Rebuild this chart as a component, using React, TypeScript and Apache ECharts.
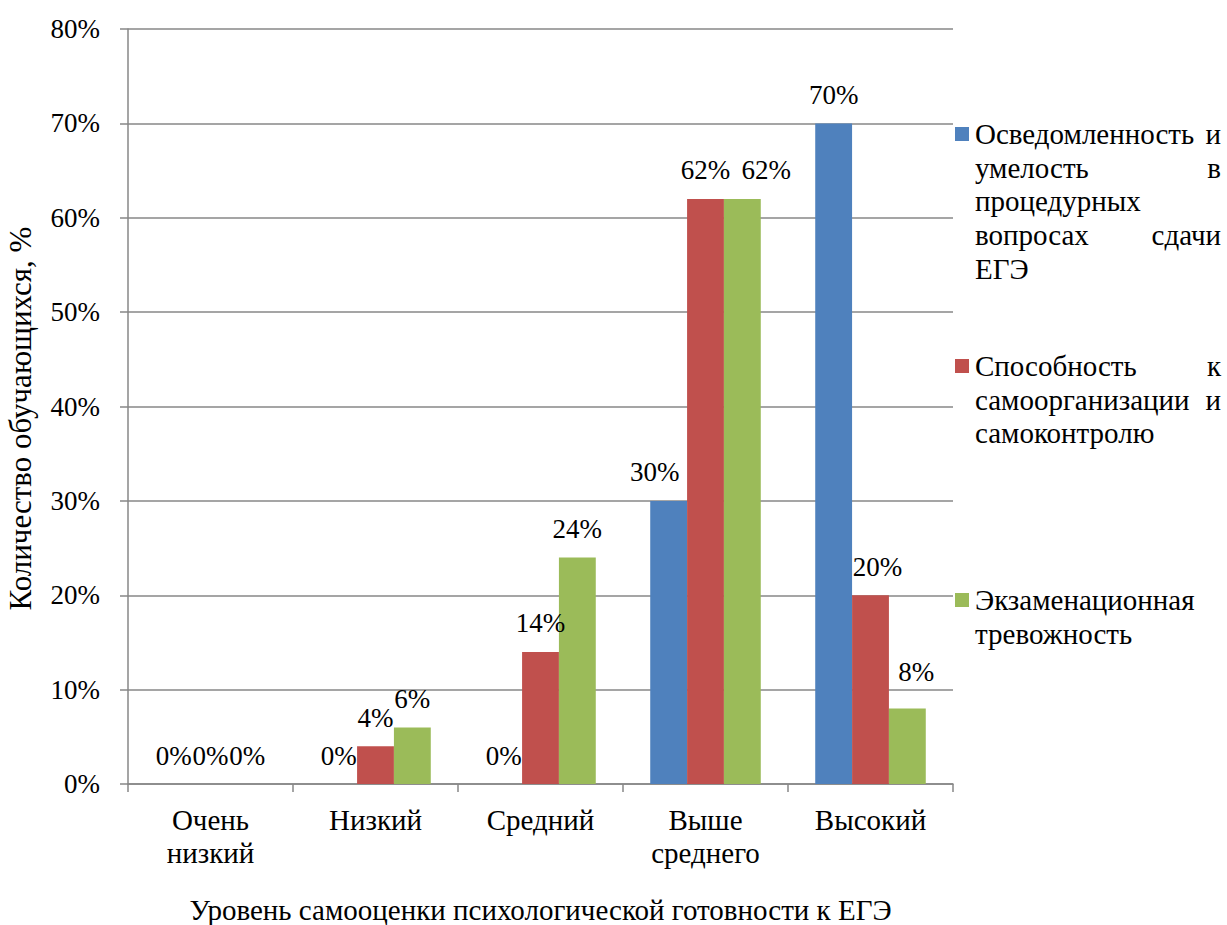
import React, { useEffect, useRef } from "react";
import * as echarts from "echarts";

const categories = ["Очень\nнизкий", "Низкий", "Средний", "Выше\nсреднего", "Высокий"];
const seriesNames = [
  "Осведомленность и умелость в процедурных вопросах сдачи ЕГЭ",
  "Способность к самоорганизации и самоконтролю",
  "Экзаменационная тревожность",
];
const awareness = [0, 0, 0, 30, 70];
const selfControl = [0, 4, 14, 62, 20];
const anxiety = [0, 6, 24, 62, 8];
const colors = ["#4F81BD", "#C0504D", "#9BBB59"];

// legend lines: [left word(s), right word (justified) or ""]
const legendLines: [string, string][][] = [
  [["Осведомленность", "и"], ["умелость", "в"], ["процедурных", ""], ["вопросах", "сдачи"], ["ЕГЭ", ""]],
  [["Способность", "к"], ["самоорганизации", "и"], ["самоконтролю", ""]],
  [["Экзаменационная", ""], ["тревожность", ""]],
];

// label nudges (like Excel's overlap avoidance), keyed "series-index"
const labelNudge: Record<string, [number, number]> = {
  "0-3": [-14, 0],
  "1-4": [7, 0],
  "2-3": [24, 0],
  "2-4": [9, -8],
};

const FONT = "Liberation Serif";

export default function App() {
  const ref = useRef<HTMLDivElement>(null);
  useEffect(() => {
    if (!ref.current) return;
    const chart = echarts.init(ref.current, undefined, { renderer: "svg" });
    const data = [awareness, selfControl, anxiety];

    const legendTops = [134, 366, 600];
    const lineH = 33.7;
    const textLeft = 975;
    const textRight = 1221;
    const graphics: any[] = [];
    legendLines.forEach((lines, i) => {
      const y0 = legendTops[i];
      graphics.push({
        type: "rect",
        shape: { x: 955, y: y0 - 7, width: 14, height: 14 },
        style: { fill: colors[i] },
      });
      lines.forEach((ln, j) => {
        const y = y0 + j * lineH;
        graphics.push({
          type: "text",
          x: textLeft,
          y,
          style: { text: ln[0], fontFamily: FONT, fontSize: 29, fill: "#000", align: "left", verticalAlign: "middle" },
        });
        if (ln[1]) {
          graphics.push({
            type: "text",
            x: textRight,
            y,
            style: { text: ln[1], fontFamily: FONT, fontSize: 29, fill: "#000", align: "right", verticalAlign: "middle" },
          });
        }
      });
    });

    chart.setOption({
      animation: false,
      grid: { left: 128, top: 29, right: 274, bottom: 141, containLabel: false, outerBoundsMode: "none" },
      xAxis: {
        type: "category",
        data: categories,
        name: "Уровень самооценки психологической готовности к ЕГЭ",
        nameLocation: "middle",
        nameGap: 111,
        nameTextStyle: { fontFamily: FONT, fontSize: 29, color: "#000" },
        axisLine: { lineStyle: { color: "#878787", width: 1.5 } },
        axisTick: { show: true, length: 8, lineStyle: { color: "#878787", width: 1.5 } },
        axisLabel: { fontFamily: FONT, fontSize: 29, color: "#000", margin: 19, lineHeight: 33 },
      },
      yAxis: {
        type: "value",
        min: 0,
        max: 80,
        interval: 10,
        name: "Количество обучающихся, %",
        nameLocation: "middle",
        nameGap: 92,
        nameTextStyle: { fontFamily: FONT, fontSize: 31, color: "#000", padding: [0, 24, 0, 0] },
        axisLine: { show: true, lineStyle: { color: "#878787", width: 1.5 } },
        axisTick: { show: true, length: 8, lineStyle: { color: "#878787", width: 1.5 } },
        axisLabel: { fontFamily: FONT, fontSize: 27, color: "#000", margin: 28, formatter: "{value}%" },
        splitLine: { lineStyle: { color: "#878787", width: 1.5 } },
      },
      series: data.map((d, i) => ({
        type: "bar",
        name: seriesNames[i],
        data: d.map((v, j) => {
          const n = labelNudge[`${i}-${j}`];
          return n ? { value: v, label: { offset: n } } : v;
        }),
        barGap: "0%",
        barCategoryGap: "33%",
        itemStyle: { color: colors[i] },
        label: {
          show: true,
          position: "top",
          distance: 15,
          formatter: "{c}%",
          fontFamily: FONT,
          fontSize: 27,
          color: "#000",
        },
      })),
      graphic: graphics,
    });
    return () => chart.dispose();
  }, []);
  return <div ref={ref} style={{ position: "absolute", left: 0, top: 0, width: 1227, height: 925 }} />;
}
